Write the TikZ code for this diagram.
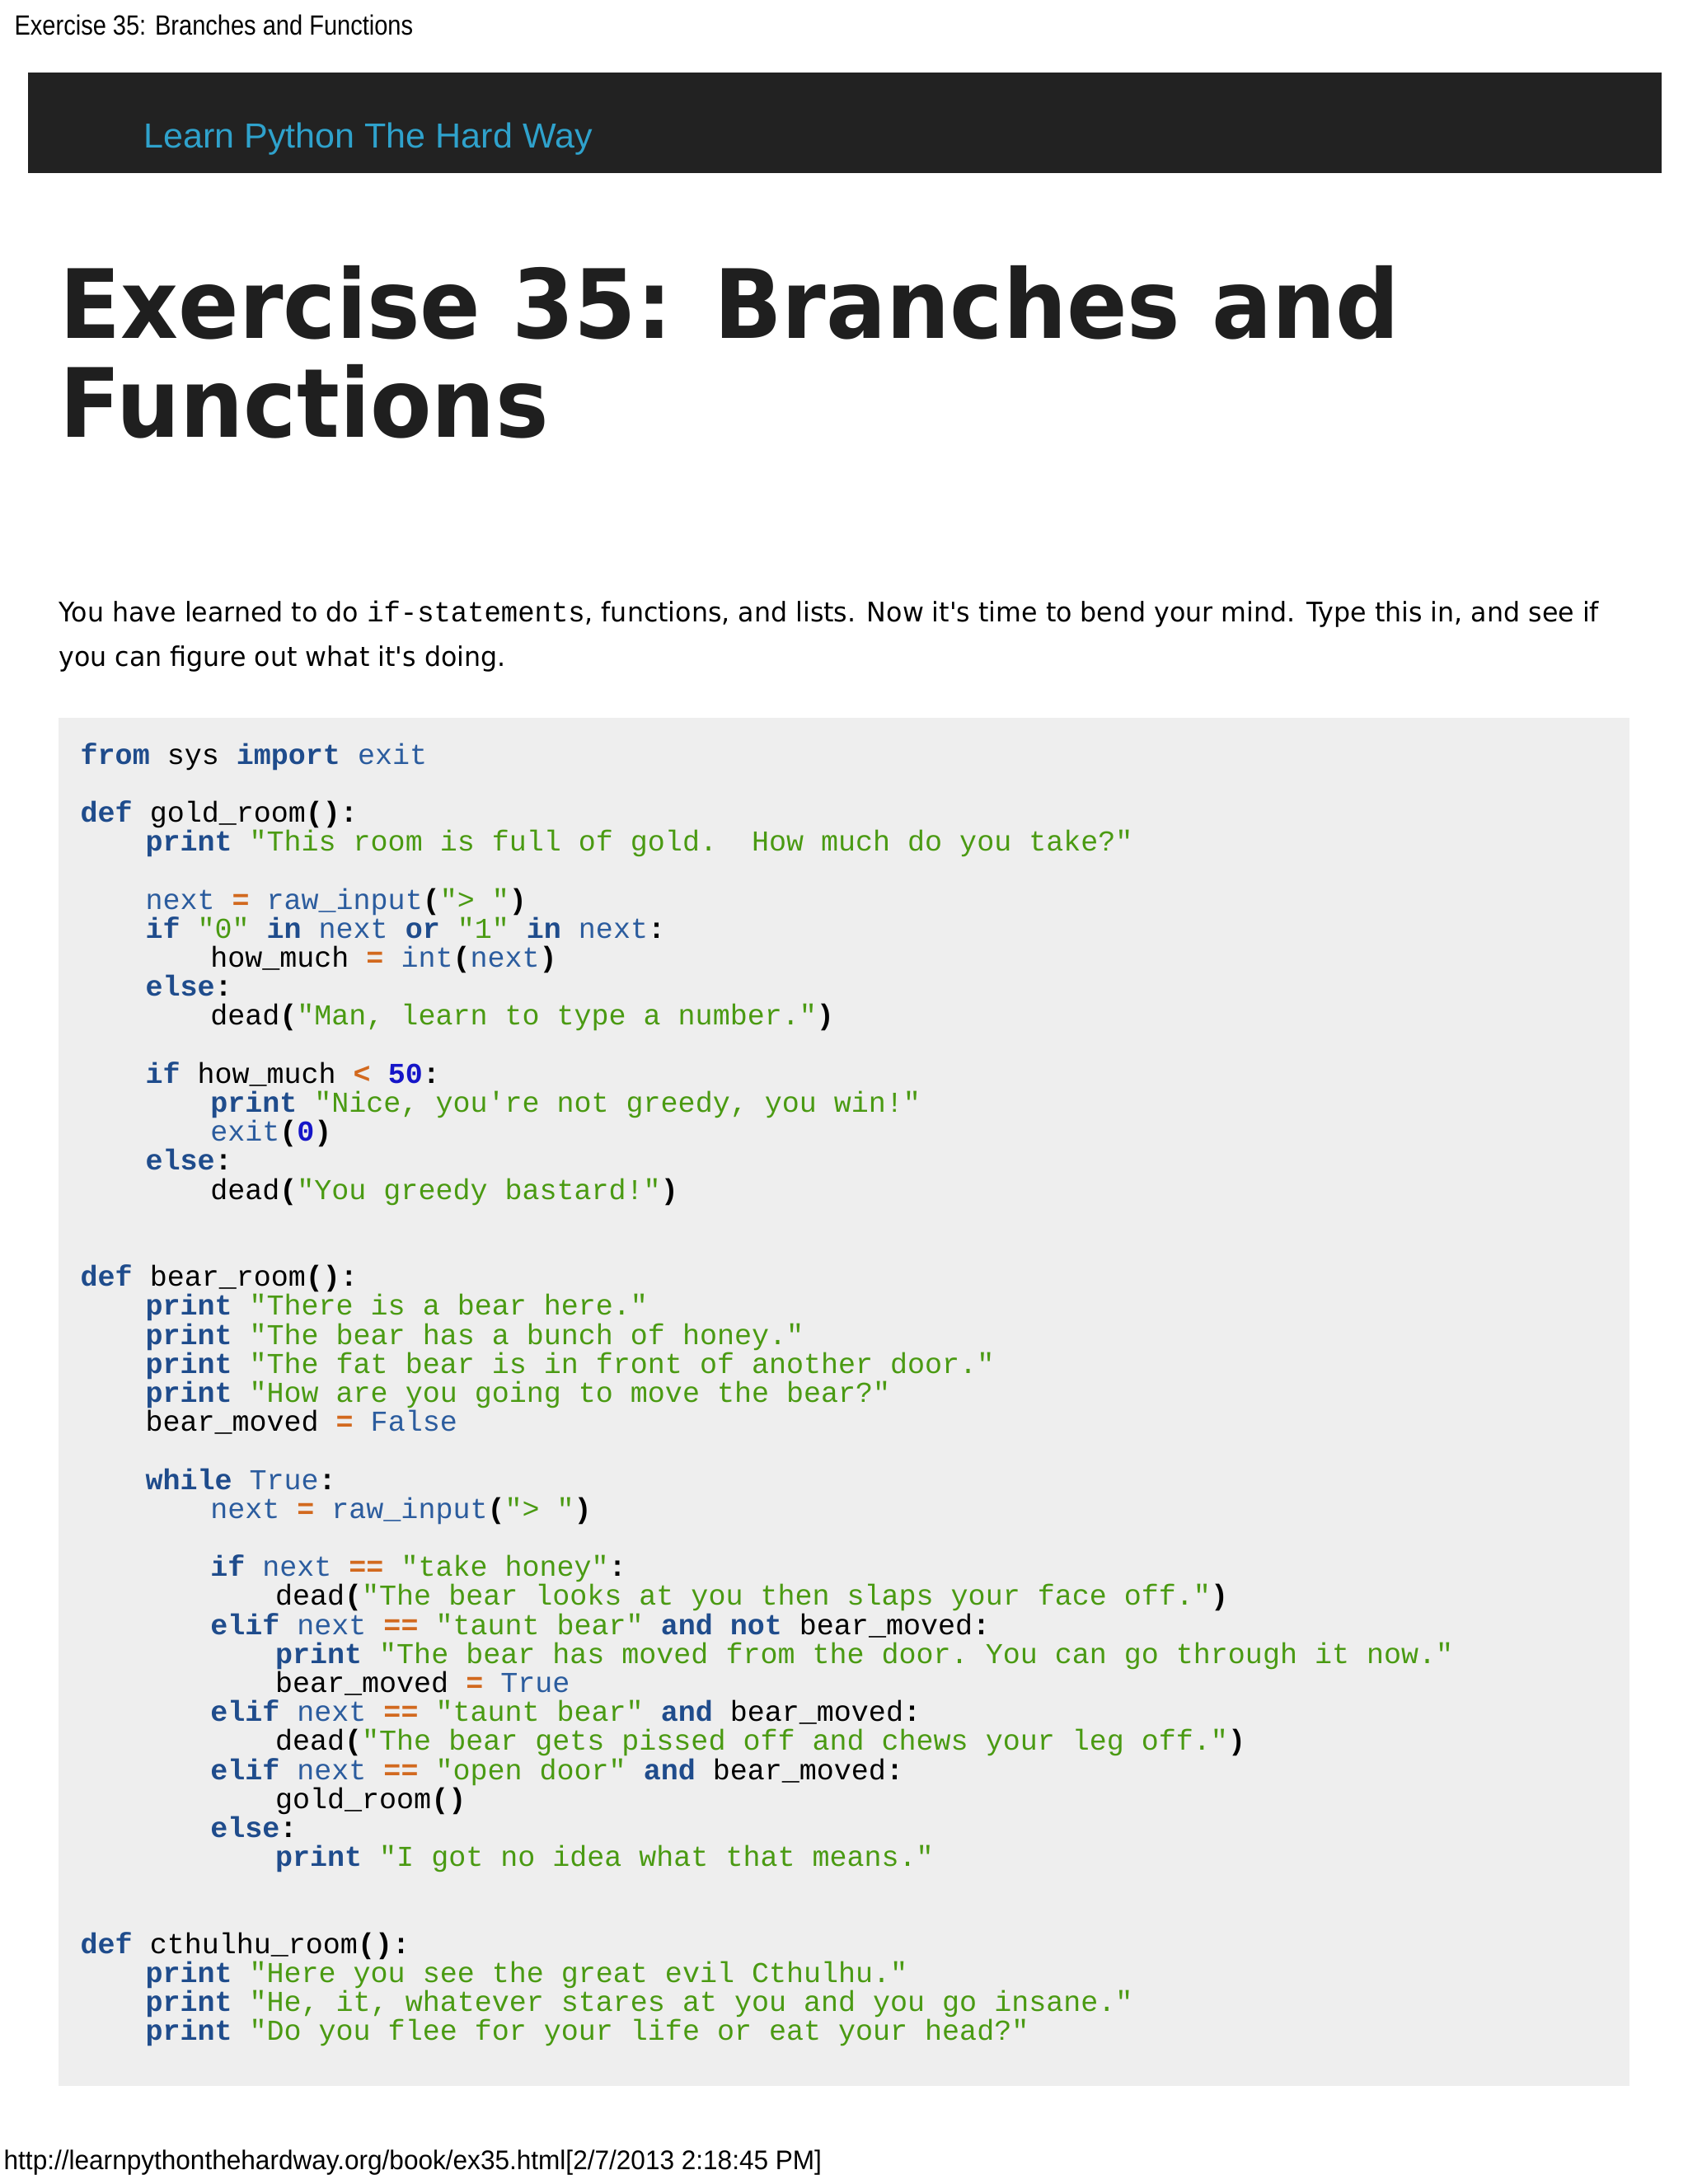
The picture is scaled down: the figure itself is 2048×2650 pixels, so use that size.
\documentclass[tikz,border=0pt]{standalone}
\usepackage{fontspec}
\setmainfont{DejaVu Sans}
\newfontfamily\codef{Liberation Mono}
\newfontfamily\arialf{Liberation Sans}
\definecolor{kw}{HTML}{1F4C8C}
\definecolor{bi}{HTML}{2B5C9E}
\definecolor{strc}{HTML}{4A9A12}
\definecolor{opc}{HTML}{D2691E}
\definecolor{numc}{HTML}{1515C8}
\definecolor{barc}{HTML}{222222}
\definecolor{linkc}{HTML}{2FA2CC}
\definecolor{codebg}{HTML}{EEEEEE}
\newcommand\Kw[1]{{\bfseries\color{kw}#1}}
\newcommand\Bi[1]{{\color{bi}#1}}
\newcommand\Str[1]{{\color{strc}#1}}
\newcommand\Op[1]{{\bfseries\color{opc}#1}}
\newcommand\Num[1]{{\bfseries\color{numc}#1}}
\newcommand\Pn[1]{{\bfseries #1}}
\newcommand\codeline[3]{\node[cl] (c#1) at ({97+19.7*#2},{927+35.2*#1}) {#3};}
\tikzset{
  cl/.style={anchor=base west,inner sep=0pt,font=\codef\fontsize{9.96pt}{10pt}\selectfont\frenchspacing},
  para/.style={anchor=base west,inner sep=0pt,font=\fontsize{9.3pt}{11pt}\selectfont,xscale=0.968}
}
\begin{document}
\begin{tikzpicture}[x=0.01cm,y=-0.01cm]
\useasboundingbox[fill=white] (0,0) rectangle (2048,2650);
\node[anchor=base west,inner sep=0pt,font=\arialf\fontsize{9.6pt}{10pt}\selectfont,xscale=0.86] (top) at (17,42) {Exercise 35: Branches and Functions};
\fill[barc] (34,88) rectangle (2016,210);
\node[anchor=base west,inner sep=0pt,font=\arialf\fontsize{12pt}{12pt}\selectfont,text=linkc,xscale=1.02] (brand) at (174,179) {Learn Python The Hard Way};
\node[anchor=base west,inner sep=0pt,font=\bfseries\fontsize{33pt}{33pt}\selectfont,text=black!88,xscale=0.935] (h1) at (72,410) {Exercise 35: Branches and};
\node[anchor=base west,inner sep=0pt,font=\bfseries\fontsize{33pt}{33pt}\selectfont,text=black!88,xscale=0.935] (h2) at (72,530) {Functions};
\node[para] (p1) at (71,754) {You have learned to do {\codef\fontsize{9.96pt}{10pt}\selectfont if-statements}, functions, and lists. Now it\textquotesingle s time to bend your mind. Type this in, and see if};
\node[para] (p2) at (71,808) {you can figure out what it\textquotesingle s doing.};
\fill[codebg] (71,871) rectangle (1977,2531);
\codeline{0}{0}{\Kw{from} sys \Kw{import} \Bi{exit}}
\codeline{2}{0}{\Kw{def} gold\_room\Pn{():}}
\codeline{3}{4}{\Kw{print} \Str{"This room is full of gold.\ \ How much do you take?"}}
\codeline{5}{4}{\Bi{next} \Op{=} \Bi{raw\_input}\Pn{(}\Str{"> "}\Pn{)}}
\codeline{6}{4}{\Kw{if} \Str{"0"} \Kw{in} \Bi{next} \Kw{or} \Str{"1"} \Kw{in} \Bi{next}\Pn{:}}
\codeline{7}{8}{how\_much \Op{=} \Bi{int}\Pn{(}\Bi{next}\Pn{)}}
\codeline{8}{4}{\Kw{else}\Pn{:}}
\codeline{9}{8}{dead\Pn{(}\Str{"Man, learn to type a number."}\Pn{)}}
\codeline{11}{4}{\Kw{if} how\_much \Op{<} \Num{50}\Pn{:}}
\codeline{12}{8}{\Kw{print} \Str{"Nice, you\textquotesingle re not greedy, you win!"}}
\codeline{13}{8}{\Bi{exit}\Pn{(}\Num{0}\Pn{)}}
\codeline{14}{4}{\Kw{else}\Pn{:}}
\codeline{15}{8}{dead\Pn{(}\Str{"You greedy bastard!"}\Pn{)}}
\codeline{18}{0}{\Kw{def} bear\_room\Pn{():}}
\codeline{19}{4}{\Kw{print} \Str{"There is a bear here."}}
\codeline{20}{4}{\Kw{print} \Str{"The bear has a bunch of honey."}}
\codeline{21}{4}{\Kw{print} \Str{"The fat bear is in front of another door."}}
\codeline{22}{4}{\Kw{print} \Str{"How are you going to move the bear?"}}
\codeline{23}{4}{bear\_moved \Op{=} \Bi{False}}
\codeline{25}{4}{\Kw{while} \Bi{True}\Pn{:}}
\codeline{26}{8}{\Bi{next} \Op{=} \Bi{raw\_input}\Pn{(}\Str{"> "}\Pn{)}}
\codeline{28}{8}{\Kw{if} \Bi{next} \Op{==} \Str{"take honey"}\Pn{:}}
\codeline{29}{12}{dead\Pn{(}\Str{"The bear looks at you then slaps your face off."}\Pn{)}}
\codeline{30}{8}{\Kw{elif} \Bi{next} \Op{==} \Str{"taunt bear"} \Kw{and} \Kw{not} bear\_moved\Pn{:}}
\codeline{31}{12}{\Kw{print} \Str{"The bear has moved from the door. You can go through it now."}}
\codeline{32}{12}{bear\_moved \Op{=} \Bi{True}}
\codeline{33}{8}{\Kw{elif} \Bi{next} \Op{==} \Str{"taunt bear"} \Kw{and} bear\_moved\Pn{:}}
\codeline{34}{12}{dead\Pn{(}\Str{"The bear gets pissed off and chews your leg off."}\Pn{)}}
\codeline{35}{8}{\Kw{elif} \Bi{next} \Op{==} \Str{"open door"} \Kw{and} bear\_moved\Pn{:}}
\codeline{36}{12}{gold\_room\Pn{()}}
\codeline{37}{8}{\Kw{else}\Pn{:}}
\codeline{38}{12}{\Kw{print} \Str{"I got no idea what that means."}}
\codeline{41}{0}{\Kw{def} cthulhu\_room\Pn{():}}
\codeline{42}{4}{\Kw{print} \Str{"Here you see the great evil Cthulhu."}}
\codeline{43}{4}{\Kw{print} \Str{"He, it, whatever stares at you and you go insane."}}
\codeline{44}{4}{\Kw{print} \Str{"Do you flee for your life or eat your head?"}}
\node[anchor=base west,inner sep=0pt,font=\arialf\fontsize{9.3pt}{10pt}\selectfont,xscale=0.965] (url) at (4,2632) {http://learnpythonthehardway.org/book/ex35.html[2/7/2013 2:18:45 PM]};
\end{tikzpicture}
\end{document}
